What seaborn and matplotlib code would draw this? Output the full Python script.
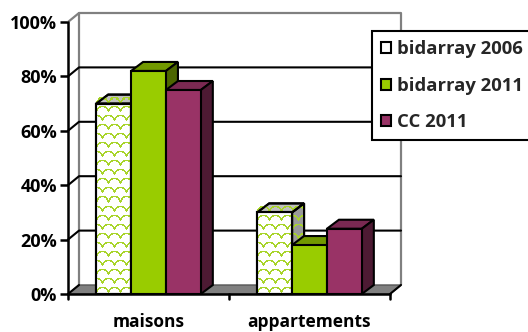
import numpy as np
import pandas as pd
import matplotlib
matplotlib.use("Agg")
import matplotlib.pyplot as plt
from matplotlib.patches import Polygon, Patch
import seaborn as sns

# Data: share of dwellings by type
categories = ["maisons", "appartements"]
series = ["bidarray 2006", "bidarray 2011", "CC 2011"]
values_2006 = [70, 30]
values_2011 = [82, 18]
values_cc = [75, 24]
y_ticks = [0, 20, 40, 60, 80, 100]
y_tick_labels = ["0%", "20%", "40%", "60%", "80%", "100%"]

df = pd.DataFrame({
    "type": categories * 3,
    "serie": [series[0]] * 2 + [series[1]] * 2 + [series[2]] * 2,
    "value": values_2006 + values_2011 + values_cc,
})

front_colors = ["#FFFFFF", "#99CC00", "#993366"]
top_colors = ["#C0C0C0", "#729900", "#7A2952"]
side_colors = ["#9A9A9A", "#4C6600", "#4D1A33"]
texture_green = "#A8D42A"

sns.set_theme(style="white")
plt.rcParams["font.family"] = ["Open Sans", "DejaVu Sans"]
plt.rcParams["font.weight"] = "bold"

W, H, DPI = 528, 332, 100
fig = plt.figure(figsize=(W / DPI, H / DPI), dpi=DPI)
ax_l, ax_r, ax_t, ax_b = 68, 390, 22, 294
ax = fig.add_axes([ax_l / W, 1 - ax_b / H, (ax_r - ax_l) / W, (ax_b - ax_t) / H])

sns.barplot(data=df, x="type", y="value", hue="serie", palette=front_colors,
            saturation=1, width=0.65, edgecolor="black", linewidth=1.5,
            legend=False, ax=ax)

XMIN, XMAX, YMIN, YMAX = -0.5, 1.5, 0, 100
ax.set_xlim(XMIN, XMAX)
ax.set_ylim(YMIN, YMAX)
for s in ax.spines.values():
    s.set_visible(False)
ax.set_xlabel("")
ax.set_ylabel("")
ax.patch.set_alpha(0)

# depth offset of the 3D box, in data units (about 11 px right, 9 px up)
px_x = (XMAX - XMIN) / (ax_r - ax_l)
px_y = (YMAX - YMIN) / (ax_b - ax_t)
DX, DY = 11 * px_x, 9 * px_y
BDX, BDY = 12 * px_x, 9 * px_y

# back wall
wall = Polygon([(XMIN + DX, YMIN + DY), (XMAX + DX, YMIN + DY),
                (XMAX + DX, YMAX + DY), (XMIN + DX, YMAX + DY)],
               closed=True, facecolor="white", edgecolor="none", zorder=0.2,
               clip_on=False)
ax.add_patch(wall)
gray = "#808080"
ax.plot([XMIN, XMIN + DX, XMAX + DX, XMAX + DX],
        [YMAX, YMAX + DY, YMAX + DY, YMIN + DY],
        color=gray, lw=1.6, zorder=0.6, clip_on=False, solid_capstyle="butt")
ax.plot([XMIN + DX, XMIN + DX], [YMIN + DY, YMAX + DY], color=gray, lw=1.6,
        zorder=0.6, clip_on=False)

# gridlines on the back wall and left wall
for t in y_ticks[1:-1]:
    ax.plot([XMIN, XMIN + DX, XMAX + DX], [t, t + DY, t + DY], color="black",
            lw=1.5, zorder=0.8, clip_on=False)

# floor
floor = Polygon([(XMIN, 0), (XMAX, 0), (XMAX + DX, DY), (XMIN + DX, DY)],
                closed=True, facecolor=gray, edgecolor="#555555", lw=1.0,
                zorder=1.0, clip_on=False)
ax.add_patch(floor)
ax.plot([XMIN, XMIN + DX], [0, DY], color="black", lw=1.5, zorder=1.1,
        clip_on=False)


def scale_texture(w, h, cw=12, ch=9):
    """Fish-scale fill pattern (RGBA, transparent background)."""
    yy, xx = np.mgrid[0:h, 0:w].astype(float)
    row = np.floor(yy / ch)
    xs = (xx + (row % 2) * cw / 2) % cw - cw / 2
    ys = yy % ch
    r = cw / 2
    d = np.abs(np.hypot(xs, ys - ch) - r)
    mask = (d < 0.75) & (ys <= ch)
    rgba = np.zeros((h, w, 4))
    rgba[..., :3] = matplotlib.colors.to_rgb(texture_green)
    rgba[..., 3] = mask.astype(float)
    return rgba


def add_texture(poly, z):
    verts = np.array(poly.get_xy())
    x0, x1 = verts[:, 0].min(), verts[:, 0].max()
    y0, y1 = verts[:, 1].min(), verts[:, 1].max()
    wpx = max(int(round((x1 - x0) / px_x)), 1)
    hpx = max(int(round((y1 - y0) / px_y)), 1)
    im = ax.imshow(scale_texture(wpx, hpx), extent=(x0, x1, y0, y1),
                   aspect="auto", interpolation="nearest", zorder=z,
                   clip_on=False)
    im.set_clip_path(poly)


for hi, cont in enumerate(ax.containers):
    for bar in cont:
        x0, y0 = bar.get_x(), bar.get_y()
        x1, y1 = x0 + bar.get_width(), y0 + bar.get_height()
        z = 3 + hi * 0.1
        bar.set_zorder(z + 0.02)
        top = Polygon([(x0, y1), (x1, y1), (x1 + BDX, y1 + BDY), (x0 + BDX, y1 + BDY)],
                      closed=True, facecolor=top_colors[hi], edgecolor="black",
                      lw=1.5, zorder=z, clip_on=False, joinstyle="miter")
        side = Polygon([(x1, y0), (x1 + BDX, y0 + BDY), (x1 + BDX, y1 + BDY), (x1, y1)],
                       closed=True, facecolor=side_colors[hi], edgecolor="black",
                       lw=1.5, zorder=z, clip_on=False, joinstyle="miter")
        ax.add_patch(top)
        ax.add_patch(side)
        if hi == 0:
            front = Polygon([(x0, y0), (x1, y0), (x1, y1), (x0, y1)], closed=True,
                            facecolor="none", edgecolor="none", zorder=z)
            ax.add_patch(front)
            add_texture(front, z + 0.025)
            add_texture(top, z + 0.005)
            add_texture(side, z + 0.005)
            # redraw outlines above the texture
            for p in (top, side):
                ax.add_patch(Polygon(p.get_xy(), closed=True, facecolor="none",
                                     edgecolor="black", lw=1.5, zorder=z + 0.015,
                                     clip_on=False, joinstyle="miter"))
            ax.add_patch(Polygon(front.get_xy(), closed=True, facecolor="none",
                                 edgecolor="black", lw=1.5, zorder=z + 0.03,
                                 clip_on=False))

ax.set_xlim(XMIN, XMAX)
ax.set_ylim(YMIN, YMAX)

# axes lines
ax.plot([XMIN, XMIN], [YMIN, YMAX], color="black", lw=1.8, zorder=6, clip_on=False)
ax.plot([XMIN, XMAX], [0, 0], color="black", lw=1.8, zorder=6, clip_on=False)
ax.plot([XMAX, XMAX + DX], [0, DY], color="black", lw=1.5, zorder=6, clip_on=False)

ax.set_yticks(y_ticks)
ax.set_yticklabels(y_tick_labels, fontsize=13, fontweight="bold", color="black")
ax.tick_params(axis="y", left=True, length=6, width=1.8, color="black", pad=2)

ax.set_xticks([0, 1])
ax.set_xticklabels(categories, fontsize=12.5, fontweight="bold", color="black")
ax.tick_params(axis="x", bottom=False, pad=8)
for xb in (XMIN, 0.5, XMAX):
    ax.plot([xb, xb], [0, -5 * px_y], color="black", lw=1.8, zorder=6,
            clip_on=False)

handles = [Patch(facecolor=front_colors[i], edgecolor="black", lw=1.5)
           for i in range(3)]
leg = ax.legend(handles, series, loc="upper left",
                bbox_to_anchor=(372 / W, 1 - 31 / H), bbox_transform=fig.transFigure,
                frameon=True, fancybox=False, framealpha=1, borderaxespad=0,
                borderpad=0.5, handlelength=0.55, handleheight=0.55,
                handletextpad=0.3, labelspacing=1.0,
                prop={"size": 13.3, "weight": "bold"})
leg.get_frame().set_edgecolor("black")
leg.get_frame().set_linewidth(1.5)
leg.set_zorder(10)

fig.savefig("out.png", dpi=DPI)
